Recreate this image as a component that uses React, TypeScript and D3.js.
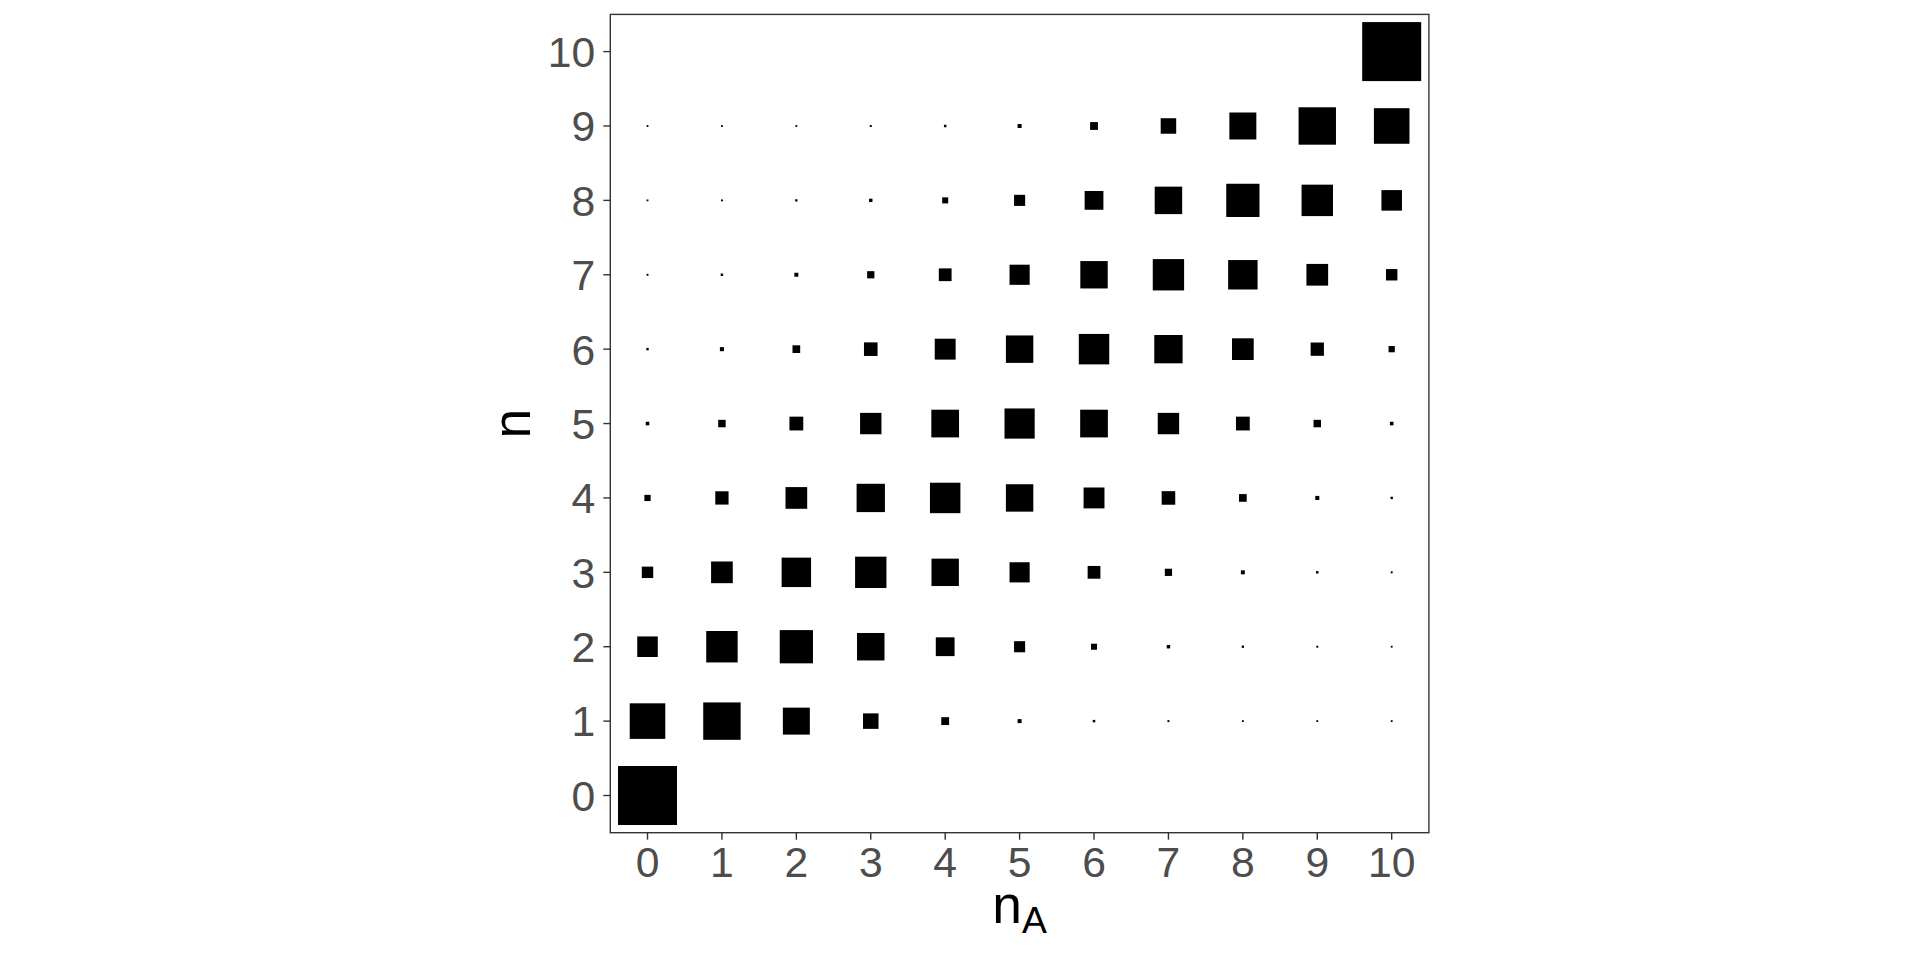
import React from "react";
import * as d3 from "d3";

// States of n (rows, y) and n_A (columns, x)
const states = [0, 1, 2, 3, 4, 5, 6, 7, 8, 9, 10];
const tickLabels = ["0", "1", "2", "3", "4", "5", "6", "7", "8", "9", "10"];

// Probability of reaching n_A (index) from n (row), read from square areas
const row0 = [1, 0, 0, 0, 0, 0, 0, 0, 0, 0, 0];
const row1 = [0.348678, 0.38742, 0.19371, 0.057396, 0.01116, 0.001488, 0.000138, 0.0000087, 0.00000036, 0.000000009, 0.0000000001];
const row2 = [0.107374, 0.268435, 0.30199, 0.201327, 0.08808, 0.026424, 0.005505, 0.000786, 0.0000737, 0.0000041, 0.0000001];
const row3 = [0.028248, 0.121061, 0.233474, 0.266828, 0.200121, 0.102919, 0.036757, 0.009002, 0.001447, 0.000138, 0.0000059];
const row4 = [0.006047, 0.040311, 0.120932, 0.214991, 0.250823, 0.200658, 0.111477, 0.042467, 0.010617, 0.001573, 0.000105];
const row5 = [0.000977, 0.009766, 0.043945, 0.117188, 0.205078, 0.246094, 0.205078, 0.117188, 0.043945, 0.009766, 0.000977];
const row6 = [0.000105, 0.001573, 0.010617, 0.042467, 0.111477, 0.200658, 0.250823, 0.214991, 0.120932, 0.040311, 0.006047];
const row7 = [0.0000059, 0.000138, 0.001447, 0.009002, 0.036757, 0.102919, 0.200121, 0.266828, 0.233474, 0.121061, 0.028248];
const row8 = [0.0000001, 0.0000041, 0.0000737, 0.000786, 0.005505, 0.026424, 0.08808, 0.201327, 0.30199, 0.268435, 0.107374];
const row9 = [0.0000000001, 0.000000009, 0.00000036, 0.0000087, 0.000138, 0.001488, 0.01116, 0.057396, 0.19371, 0.38742, 0.348678];
const row10 = [0, 0, 0, 0, 0, 0, 0, 0, 0, 0, 1];

const rows = [row0, row1, row2, row3, row4, row5, row6, row7, row8, row9, row10];

const W = 1920;
const H = 960;

export default function App() {
  const x = d3.scaleLinear().domain([-0.5, 10.5]).range([610.3, 1428.9]);
  const y = d3.scaleLinear().domain([-0.5, 10.5]).range([832.7, 14.4]);
  const size = d3.scaleSqrt().domain([0, 1]).range([1.8, 59]);

  const cells: { n: number; nA: number; p: number }[] = [];
  rows.forEach((r, n) => {
    r.forEach((p, nA) => {
      if (p > 0) cells.push({ n: states[n], nA: states[nA], p });
    });
  });

  const [x0, x1] = x.range();
  const [y0, y1] = y.range();
  const tickLen = 7;
  const axisColor = "#333333";
  const labelColor = "#4D4D4D";
  const font = "'Liberation Sans', Arial, Helvetica, sans-serif";
  const cx = (x0 + x1) / 2;
  const cy = (y0 + y1) / 2;

  return (
    <svg
      width={W}
      height={H}
      style={{ position: "absolute", left: 0, top: 0, background: "#fff" }}
      fontFamily={font}
    >
      <rect x={0} y={0} width={W} height={H} fill="#fff" />
      {/* squares */}
      {cells.map((c, i) => {
        const s = size(c.p);
        return (
          <rect
            key={i}
            x={x(c.nA) - s / 2}
            y={y(c.n) - s / 2}
            width={s}
            height={s}
            fill="#000"
          />
        );
      })}
      {/* panel border */}
      <rect
        x={x0}
        y={y1}
        width={x1 - x0}
        height={y0 - y1}
        fill="none"
        stroke={axisColor}
        strokeWidth={1.4}
      />
      {/* x axis ticks and labels */}
      {states.map((v, i) => (
        <g key={"x" + v}>
          <line x1={x(v)} x2={x(v)} y1={y0} y2={y0 + tickLen} stroke={axisColor} strokeWidth={1.4} />
          <text
            x={x(v)}
            y={y0 + 44}
            textAnchor="middle"
            fontSize={42.7}
            fill={labelColor}
          >
            {tickLabels[i]}
          </text>
        </g>
      ))}
      {/* y axis ticks and labels */}
      {states.map((v, i) => (
        <g key={"y" + v}>
          <line x1={x0 - tickLen} x2={x0} y1={y(v)} y2={y(v)} stroke={axisColor} strokeWidth={1.4} />
          <text
            x={x0 - tickLen - 8}
            y={y(v)}
            dy="0.36em"
            textAnchor="end"
            fontSize={42.7}
            fill={labelColor}
          >
            {tickLabels[i]}
          </text>
        </g>
      ))}
      {/* x axis title n_A */}
      <text x={cx} y={923} textAnchor="middle" fontSize={53.3} fill="#000">
        <tspan>n</tspan>
        <tspan fontSize={37.3} dy={10}>A</tspan>
      </text>
      {/* y axis title n */}
      <text
        transform={`translate(${530},${cy}) rotate(-90)`}
        textAnchor="middle"
        fontSize={53.3}
        fill="#000"
      >
        n
      </text>
    </svg>
  );
}
